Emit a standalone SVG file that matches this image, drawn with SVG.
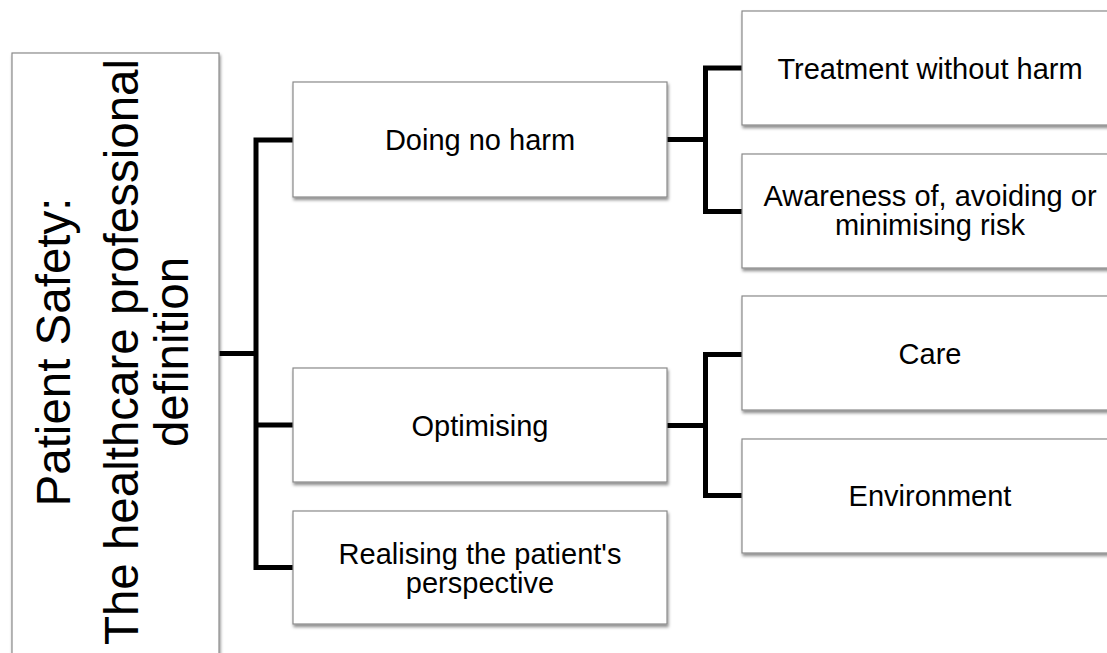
<svg xmlns="http://www.w3.org/2000/svg" width="1107" height="653" viewBox="0 0 1107 653">
  <style>
    .box { fill: #ffffff; stroke: #8a8a8a; stroke-width: 1.2; filter: url(#shadow); }
    .lbl { font-family: "Liberation Sans", Arial, sans-serif; font-size: 29px; fill: #000000; text-anchor: middle; }
    .title { font-family: "Liberation Sans", Arial, sans-serif; font-size: 47.5px; fill: #000000; text-anchor: middle; }
    .link { fill: none; stroke: #000000; stroke-width: 5; stroke-linejoin: miter; stroke-linecap: butt; }
  </style>
  <defs>
    <filter id="shadow" x="-5%" y="-10%" width="110%" height="125%">
      <feDropShadow dx="1" dy="2.5" stdDeviation="1.5" flood-color="#000000" flood-opacity="0.45"/>
    </filter>
  </defs>
  <rect width="1107" height="653" fill="#ffffff"/>

  <!-- connectors -->
  <g id="connectors">
    <path class="link" d="M219 353.5 H256"/>
    <path class="link" d="M293 140 H256 V567.5 H293"/>
    <path class="link" d="M256 425 H293"/>
    <path class="link" d="M667 139.5 H705.5"/>
    <path class="link" d="M742 68 H705.5 V211.5 H742"/>
    <path class="link" d="M667 425.5 H705.5"/>
    <path class="link" d="M742 354.5 H705.5 V495.5 H742"/>
  </g>

  <!-- root -->
  <g id="root">
    <rect class="box" x="12" y="53" width="207" height="604"/>
    <g transform="translate(0 352) rotate(-90)">
      <text class="title" x="0" y="70">Patient Safety:</text>
      <text class="title" x="0" y="138">The healthcare professional</text>
      <text class="title" x="0" y="188">definition</text>
    </g>
  </g>

  <!-- second level -->
  <g id="doing-no-harm">
    <rect class="box" x="293" y="82" width="374" height="115"/>
    <text class="lbl" x="480" y="150">Doing no harm</text>
  </g>
  <g id="optimising">
    <rect class="box" x="293" y="368" width="374" height="114"/>
    <text class="lbl" x="480" y="435.5">Optimising</text>
  </g>
  <g id="realising">
    <rect class="box" x="293" y="511" width="374" height="113"/>
    <text class="lbl" x="480" y="563.5">Realising the patient's</text>
    <text class="lbl" x="480" y="592.5">perspective</text>
  </g>

  <!-- third level -->
  <g id="treatment">
    <rect class="box" x="742" y="11" width="376" height="114"/>
    <text class="lbl" x="930" y="78.5">Treatment without harm</text>
  </g>
  <g id="awareness">
    <rect class="box" x="742" y="154" width="376" height="114"/>
    <text class="lbl" x="930" y="206">Awareness of, avoiding or</text>
    <text class="lbl" x="930" y="235">minimising risk</text>
  </g>
  <g id="care">
    <rect class="box" x="742" y="296" width="376" height="114"/>
    <text class="lbl" x="930" y="364">Care</text>
  </g>
  <g id="environment">
    <rect class="box" x="742" y="439" width="376" height="114"/>
    <text class="lbl" x="930" y="506">Environment</text>
  </g>
</svg>
